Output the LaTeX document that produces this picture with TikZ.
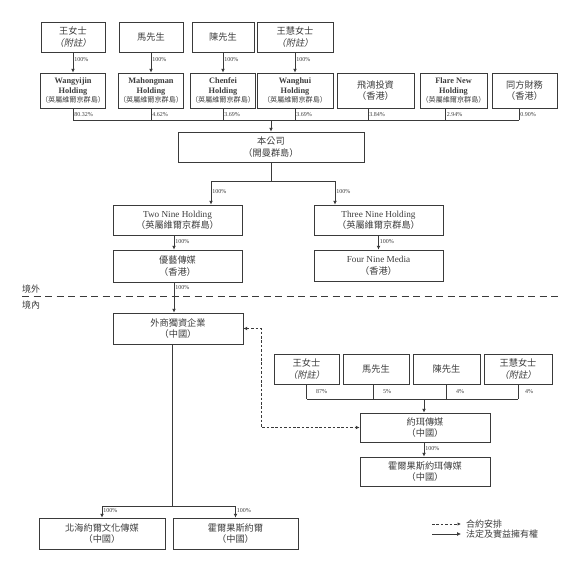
\documentclass[tikz,border=0pt]{standalone}
\usepackage{fontspec}
\setmainfont{Liberation Serif}
\newfontfamily\cjk{Noto Sans CJK TC}
\newfontfamily\cjki{Noto Sans CJK TC}[FakeSlant=0.2]
\usetikzlibrary{arrows.meta}
\definecolor{linec}{HTML}{3A3A3A}
\definecolor{txt}{HTML}{3C3C3C}
\newcommand\mkbox[6]{\node[box, minimum width={(#4-#2)*1pt}, minimum height={(#5-#3)*1pt}] (#1) at ({(#2+#4)/2},{(#3+#5)/2}) {#6};}
\newcommand\cj[1]{{\cjk #1}}
\newcommand\cjs[1]{{\mdseries\cjk\fontsize{7.1}{9.4}\selectfont #1}}
\tikzset{
  box/.style={draw=linec, line width=0.8pt, text=txt, align=center, inner sep=0.5pt,
    font=\fontsize{9.2}{11.5}\selectfont},
  hbox/.style={draw=linec, line width=0.8pt, text=txt, align=center, inner sep=0.5pt,
    font=\bfseries\fontsize{8.3}{9.4}\selectfont},
  ln/.style={draw=linec, line width=0.7pt},
  arr/.style={ln, -{Latex[length=3.8pt,width=3.8pt]}},
  dsh/.style={ln, dash pattern=on 2.6pt off 1.8pt},
  pct/.style={font=\fontsize{6}{6}\selectfont, text=txt, anchor=west, inner sep=1pt},
  lab/.style={font=\cjk\fontsize{9}{9}\selectfont, text=txt, inner sep=0pt},
}
\begin{document}
\begin{tikzpicture}[x=1pt,y=-1pt]
\useasboundingbox (0,0) rectangle (587,565);
% top owners
\mkbox{o1}{41}{22}{105}{52}{\cj{王女士}\\{\cjki （附註）}}
\mkbox{o2}{119}{22}{183}{52}{\cj{馬先生}}
\mkbox{o3}{192}{22}{254}{52}{\cj{陳先生}}
\mkbox{o4}{257}{22}{333}{52}{\cj{王慧女士}\\{\cjki （附註）}}
% holdings
\begin{scope}[box/.style={hbox}]
\mkbox{h1}{41}{73}{105}{108}{Wangyijin\\Holding\\\cjs{（英屬維爾京群島）}}
\mkbox{h2}{119}{73}{183}{108}{Mahongman\\Holding\\\cjs{（英屬維爾京群島）}}
\mkbox{h3}{192}{73}{254}{108}{Chenfei\\Holding\\\cjs{（英屬維爾京群島）}}
\mkbox{h4}{257}{73}{333}{108}{Wanghui\\Holding\\\cjs{（英屬維爾京群島）}}
\mkbox{h6}{420}{73}{487}{108}{Flare New\\Holding\\\cjs{（英屬維爾京群島）}}
\end{scope}
\mkbox{h5}{337}{73}{414}{108}{\cj{飛鴻投資}\\\cj{（香港）}}
\mkbox{h7}{492}{73}{557}{108}{\cj{同方財務}\\\cj{（香港）}}
% owner arrows
\foreach \i in {1,2,3,4}{
  \draw[arr] (o\i) -- node[pct, pos=0.35]{100\%} (h\i);
}
% bus to company
\coordinate (busL) at (73,120);
\coordinate (busR) at (519,120);
\coordinate (busC) at (271,120);
\draw[ln] (h1.south) -- node[pct]{80.32\%} (h1.south |- busL);
\draw[ln] (h2.south) -- node[pct]{4.62\%} (h2.south |- busL);
\draw[ln] (h3.south) -- node[pct]{3.69\%} (h3.south |- busL);
\draw[ln] (h4.south) -- node[pct]{3.69\%} (h4.south |- busL);
\draw[ln] ([xshift=-7.5pt]h5.south) -- node[pct]{3.84\%} ([xshift=-7.5pt]h5.south |- busL);
\draw[ln] ([xshift=-8pt]h6.south) -- node[pct]{2.94\%} ([xshift=-8pt]h6.south |- busL);
\draw[ln] ([xshift=-5.5pt]h7.south) -- node[pct]{0.90\%} ([xshift=-5.5pt]h7.south |- busL);
\draw[ln] (busL) -- (busR);
\mkbox{co}{178}{132}{364}{162}{\cj{本公司}\\\cj{（開曼群島）}}
\draw[arr] (busC) -- (co.north);
% branch
\coordinate (brL) at (211,181);
\coordinate (brR) at (335,181);
\draw[ln] (co.south) -- (co.south |- brL);
\draw[ln] (brL) -- (brR);
\mkbox{two}{113}{205}{242}{235}{Two Nine Holding\\\cj{（英屬維爾京群島）}}
\mkbox{three}{314}{205}{443}{235}{Three Nine Holding\\\cj{（英屬維爾京群島）}}
\draw[arr] (brL) -- node[pct, pos=0.45]{100\%} (brL |- two.north);
\draw[arr] (brR) -- node[pct, pos=0.45]{100\%} (brR |- three.north);
\mkbox{yy}{113}{250}{242}{282}{\cj{優藝傳媒}\\\cj{（香港）}}
\mkbox{four}{314}{250}{443}{281}{Four Nine Media\\\cj{（香港）}}
\draw[arr] ([xshift=-3.5pt]two.south) -- node[pct, pos=0.4]{100\%} ([xshift=-3.5pt]yy.north);
\draw[arr] (three) -- node[pct, pos=0.4]{100\%} (four);
% border
\coordinate (sepL) at (22,296);
\coordinate (sepR) at (562,296);
\draw[linec, line width=0.8pt, dash pattern=on 7pt off 4.5pt] (sepL) -- (sepR);
\node[lab, anchor=west] (jw) at (22,289) {境外};
\node[lab, anchor=west] (jn) at (22,305) {境內};
% WFOE
\mkbox{wf}{113}{313}{243}{344}{\cj{外商獨資企業}\\\cj{（中國）}}
\draw[arr] ([xshift=-3.5pt]yy.south) -- node[pct, pos=0.16]{100\%} ([xshift=-4pt]wf.north);
% lower owners
\mkbox{l1}{274}{354}{339}{384}{\cj{王女士}\\{\cjki （附註）}}
\mkbox{l2}{343}{354}{409}{384}{\cj{馬先生}}
\mkbox{l3}{413}{354}{480}{384}{\cj{陳先生}}
\mkbox{l4}{484}{354}{552}{384}{\cj{王慧女士}\\{\cjki （附註）}}
\coordinate (lbL) at (307,399);
\coordinate (lbR) at (518,399);
\draw[ln] (l1.south) -- (l1.south |- lbL);
\draw[ln] ([xshift=-3pt]l2.south) -- ([xshift=-3pt]l2.south |- lbL);
\draw[ln] (l3.south) -- (l3.south |- lbL);
\draw[ln] (l4.south) -- (l4.south |- lbL);
\draw[ln] (lbL) -- (lbR);
\node[pct] (p1) at (315,391.5) {87\%};
\node[pct] (p2) at (382,391.5) {5\%};
\node[pct] (p3) at (455,391.5) {4\%};
\node[pct] (p4) at (524,391.5) {4\%};
\mkbox{yz}{360}{413}{490}{442}{\cj{約珥傳媒}\\\cj{（中國）}}
\mkbox{hy}{360}{457}{490}{486}{\cj{霍爾果斯約珥傳媒}\\\cj{（中國）}}
\coordinate (lbC) at (424,399);
\draw[arr] (lbC) -- (lbC |- yz.north);
\draw[arr] (lbC |- yz.south) -- node[pct, pos=0.45]{100\%} (lbC |- hy.north);
% contractual arrangement
\draw[dsh, {Latex[length=3.8pt,width=3.8pt]}-{Latex[length=3.8pt,width=3.8pt]}] (wf.east) -- ++(18,0) |- (yz.west);
% bottom subsidiaries
\mkbox{bh}{39}{518}{165}{549}{\cj{北海約爾文化傳媒}\\\cj{（中國）}}
\mkbox{hg}{173}{518}{298}{549}{\cj{霍爾果斯約爾}\\\cj{（中國）}}
\coordinate (bb) at (172,506);
\draw[ln] ([xshift=-6pt]wf.south) -- (bb);
\draw[ln] (bh.north |- bb) -- (hg.north |- bb);
\draw[arr] (bh.north |- bb) -- node[pct, pos=0.4]{100\%} (bh.north);
\draw[arr] (hg.north |- bb) -- node[pct, pos=0.4]{100\%} (hg.north);
% legend
\coordinate (la1) at (432,524);
\coordinate (la2) at (461,524);
\coordinate (lb1) at (432,534);
\coordinate (lb2) at (461,534);
\draw[dsh, -{Latex[length=3.4pt,width=3.4pt]}] (la1) -- (la2);
\draw[arr] (lb1) -- (lb2);
\node[lab, anchor=west] (lt1) at (466,524) {合約安排};
\node[lab, anchor=west] (lt2) at (466,534.5) {法定及實益擁有權};
\end{tikzpicture}
\end{document}
